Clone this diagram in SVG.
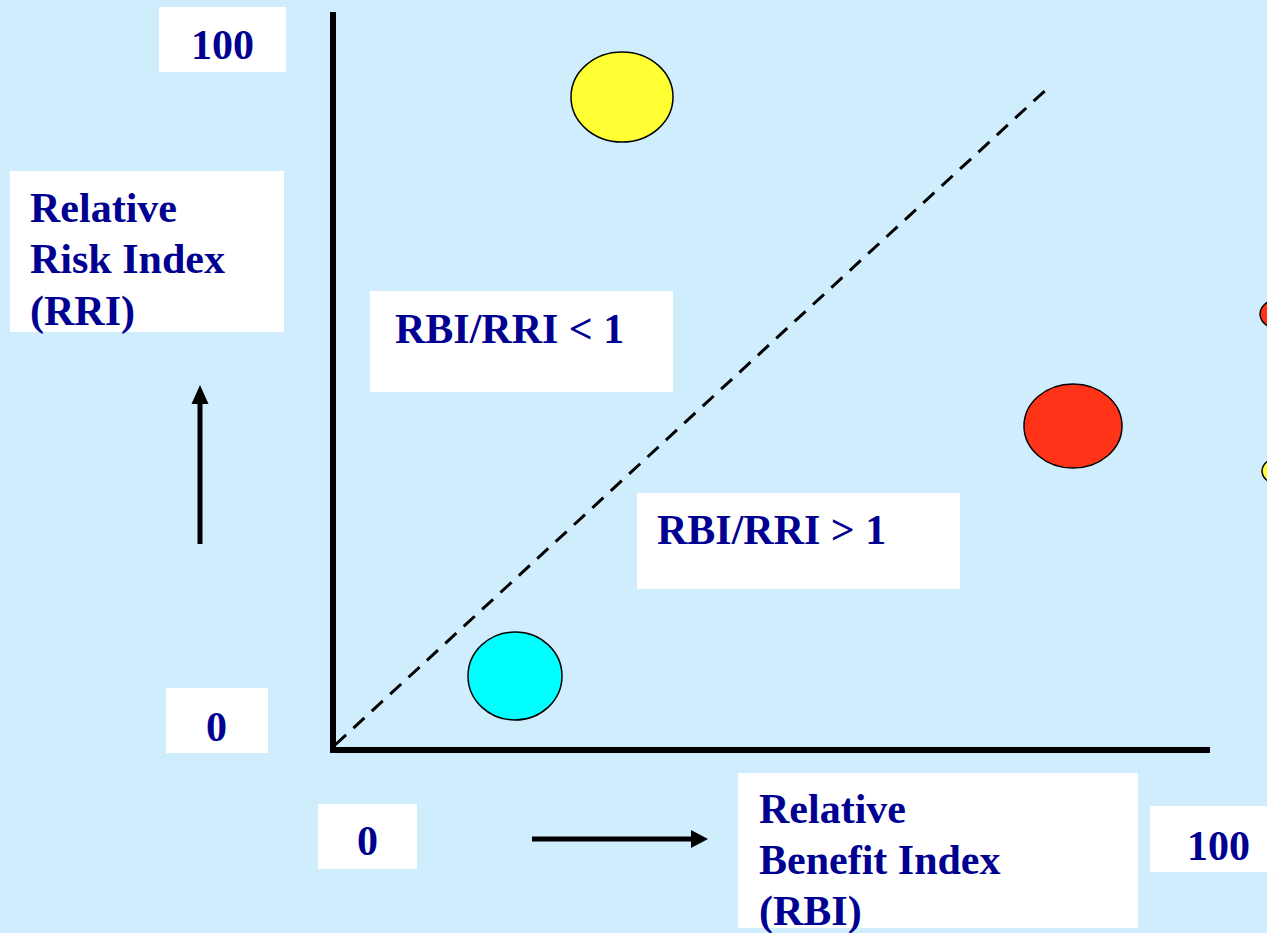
<svg xmlns="http://www.w3.org/2000/svg" width="1267" height="933" viewBox="0 0 1267 933">
  <style>
    .box { fill: #ffffff; }
    .lbl { font-family: "Liberation Serif", "Times New Roman", serif; font-weight: bold; font-size: 42px; fill: #000091; }
    .axis { stroke: #000000; stroke-width: 6; fill: none; stroke-linecap: square; }
    .diag { stroke: #000000; stroke-width: 3; fill: none; stroke-dasharray: 15 10; }
    .pt { stroke: #000000; stroke-width: 1.5; }
    .arrow { stroke: #000000; stroke-width: 5; fill: none; }
  </style>

  <rect x="0" y="0" width="1267" height="933" fill="#CFEDFD"/>

  <!-- axes, diagonal and direction arrows -->
  <g id="connectors">
    <line class="axis" x1="333" y1="15" x2="333" y2="750"/>
    <line class="axis" x1="333" y1="750" x2="1207" y2="750"/>
    <line class="diag" x1="335" y1="745" x2="1049" y2="87"/>
    <line class="arrow" x1="200" y1="544" x2="200" y2="400"/>
    <polygon points="200,385 191.5,404 208.5,404" fill="#000000"/>
    <line class="arrow" x1="532" y1="839" x2="694" y2="839"/>
    <polygon points="708,839 691,830 691,848" fill="#000000"/>
  </g>

  <!-- data points -->
  <g id="point-yellow-top"><ellipse class="pt" cx="622" cy="97" rx="51" ry="45" fill="#FFFF33"/></g>
  <g id="point-red"><ellipse class="pt" cx="1073" cy="426" rx="49" ry="42" fill="#FF3318"/></g>
  <g id="point-cyan"><ellipse class="pt" cx="515" cy="676" rx="47" ry="44" fill="#00FFFF"/></g>
  <g id="point-red-edge"><ellipse class="pt" cx="1290" cy="314" rx="30" ry="18" fill="#FF3318"/></g>
  <g id="point-yellow-edge"><ellipse class="pt" cx="1285" cy="471" rx="23" ry="15" fill="#FFFF33"/></g>

  <!-- axis scale labels -->
  <g id="y-max">
    <rect class="box" x="159" y="7" width="127" height="65"/>
    <text class="lbl" x="191" y="59">100</text>
  </g>
  <g id="y-min">
    <rect class="box" x="166" y="688" width="102" height="65"/>
    <text class="lbl" x="206" y="741">0</text>
  </g>
  <g id="x-min">
    <rect class="box" x="318" y="804" width="99" height="65"/>
    <text class="lbl" x="357" y="855">0</text>
  </g>
  <g id="x-max">
    <rect class="box" x="1150" y="806" width="117" height="66"/>
    <text class="lbl" x="1187" y="860">100</text>
  </g>

  <!-- axis titles -->
  <g id="y-title">
    <rect class="box" x="10" y="171" width="274" height="161"/>
    <text class="lbl" x="30" y="222">Relative</text>
    <text class="lbl" x="30" y="273">Risk Index</text>
    <text class="lbl" x="30" y="325">(RRI)</text>
  </g>
  <g id="x-title">
    <rect class="box" x="738" y="773" width="400" height="155"/>
    <text class="lbl" x="759" y="823">Relative</text>
    <text class="lbl" x="759" y="874">Benefit Index</text>
    <text class="lbl" x="759" y="925">(RBI)</text>
  </g>

  <!-- region labels -->
  <g id="region-below">
    <rect class="box" x="370" y="291" width="303" height="101"/>
    <text class="lbl" x="395" y="343">RBI/RRI &lt; 1</text>
  </g>
  <g id="region-above">
    <rect class="box" x="637" y="493" width="323" height="96"/>
    <text class="lbl" x="657" y="544">RBI/RRI &gt; 1</text>
  </g>
</svg>
